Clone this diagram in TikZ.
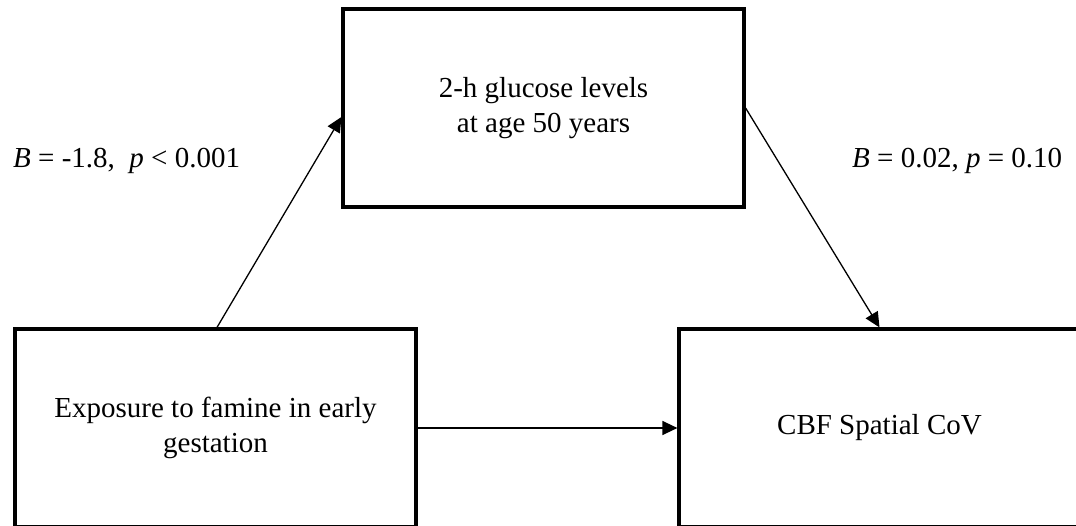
\documentclass[tikz,border=0pt]{standalone}
\usepackage{fontspec}
\setmainfont{Liberation Serif}
\usetikzlibrary{arrows.meta}
\begin{document}
\begin{tikzpicture}[x=1pt,y=-1pt,
  box/.style={draw, line width=3.2pt, minimum width=401pt, minimum height=198pt, inner sep=0pt, align=center, font=\fontsize{29}{35}\selectfont},
  lbl/.style={anchor=base west, inner sep=0pt, font=\fontsize{29}{35}\selectfont},
  conn/.style={line width=1.3pt, -{Triangle[length=15pt,width=14pt]}}]
\useasboundingbox (0,0) rectangle (1076,526);
\node[box] (tb) at (543.5,108) {2-h glucose levels\\at age 50 years};
\node[box] (lb) at (215.5,428) {Exposure to famine in early\\gestation};
\node[box] (rb) at (879.5,428) {CBF Spatial CoV};
\node[lbl] (l1) at (13,168) {\textit{B} = -1.8,~ \textit{p} < 0.001};
\node[lbl] (l2) at (852,168) {\textit{B} = 0.02, \textit{p} = 0.10};
\draw[conn] ([xshift=1.5pt]lb.north) -- ([yshift=-9pt]tb.west);
\draw[conn] (tb.east) -- (rb.north);
\draw[conn] (lb.east) -- (rb.west);
\end{tikzpicture}
\end{document}
